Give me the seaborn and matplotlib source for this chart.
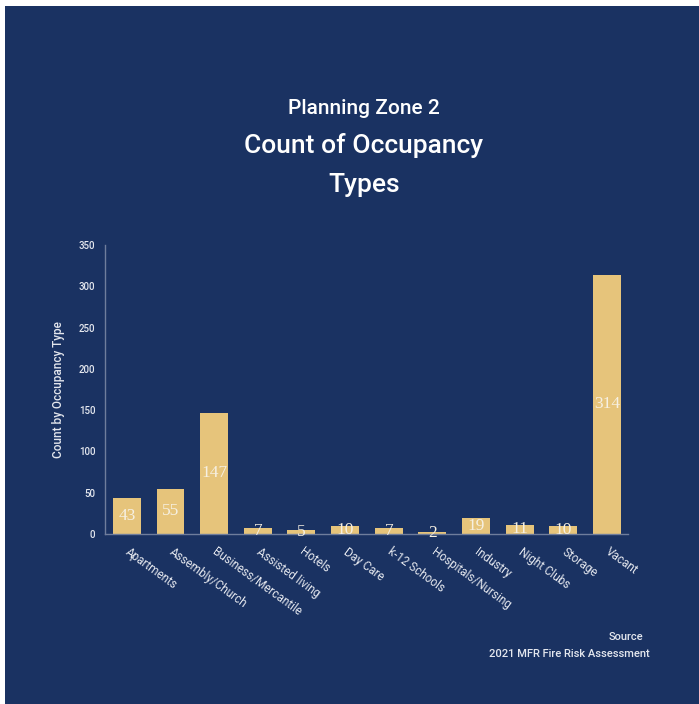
import matplotlib
matplotlib.use("Agg")
import matplotlib.pyplot as plt
import matplotlib.patches as mpatches
import seaborn as sns
import pandas as pd

categories = ["Apartments", "Assembly/Church", "Business/Mercantile", "Assisted living",
              "Hotels", "Day Care", "k-12 Schools", "Hospitals/Nursing", "Industry",
              "Night Clubs", "Storage", "Vacant"]
counts = [43, 55, 147, 7, 5, 10, 7, 2, 19, 11, 10, 314]
y_ticks = [0, 50, 100, 150, 200, 250, 300, 350]

title_line1 = "Planning Zone 2"
title_line2 = "Count of Occupancy"
title_line3 = "Types"
y_label = "Count by Occupancy Type"
source_lines = ["Source", "2021 MFR Fire Risk Assessment"]

NAVY = "#1a3262"
GOLD = "#e6c47b"
TXT = "#e4e7ee"
AXC = "#6f7d9c"

sns.set_theme(style="white")
plt.rcParams["font.family"] = ["Roboto", "DejaVu Sans"]

df = pd.DataFrame({"cat": categories, "count": counts})

fig = plt.figure(figsize=(6.99, 7.04), dpi=100, facecolor="white")
bg = mpatches.Rectangle((5 / 699, 0), 1, 1 - 6 / 704, transform=fig.transFigure,
                        facecolor=NAVY, edgecolor="none", zorder=-10)
fig.patches.append(bg)

ax = fig.add_axes([105 / 699, 1 - 534 / 704, (628 - 105) / 699, (534 - 245) / 704])
ax.set_facecolor(NAVY)
sns.barplot(data=df, x="cat", y="count", color=GOLD, saturation=1, width=0.64,
            edgecolor="none", linewidth=0, ax=ax)
ax.set_xlim(-0.5, 11.48)
ax.set_ylim(0, 350)
ax.set_yticks(y_ticks)
ax.set_yticklabels([str(t) for t in y_ticks], color=TXT, fontsize=7, fontweight="medium")
ax.tick_params(axis="y", length=0, pad=7)
ax.tick_params(axis="x", length=0, pad=12)
ax.set_xticks(range(len(categories)))
ax.set_xticklabels(categories, rotation=-36, ha="left", va="center",
                   rotation_mode="anchor", color=TXT, fontsize=8.5)
ax.set_xlabel("")
ax.set_ylabel(y_label, color=TXT, fontsize=8.5, labelpad=10, fontweight="medium")
for s in ["top", "right"]:
    ax.spines[s].set_visible(False)
for s in ["left", "bottom"]:
    ax.spines[s].set_color(AXC)
    ax.spines[s].set_linewidth(1)

ax.bar_label(ax.containers[0], labels=[str(v) for v in counts], label_type="center",
             color="#f6f0e2", fontsize=12.5, family=["Liberation Serif", "DejaVu Serif"])

fig.text(364 / 699, 1 - 108 / 704, title_line1, ha="center", va="center",
         color="white", fontsize=15, fontweight="medium")
fig.text(364 / 699, 1 - 146 / 704, title_line2, ha="center", va="center",
         color="white", fontsize=19, fontweight="medium")
fig.text(364 / 699, 1 - 185 / 704, title_line3, ha="center", va="center",
         color="white", fontsize=19, fontweight="medium")

fig.text(643 / 699, 1 - 637 / 704, source_lines[0], ha="right", va="center",
         color=TXT, fontsize=8, fontweight="medium")
fig.text(650 / 699, 1 - 654 / 704, source_lines[1], ha="right", va="center",
         color=TXT, fontsize=8, fontweight="medium")

fig.savefig("out.png", dpi=100, facecolor="white")
